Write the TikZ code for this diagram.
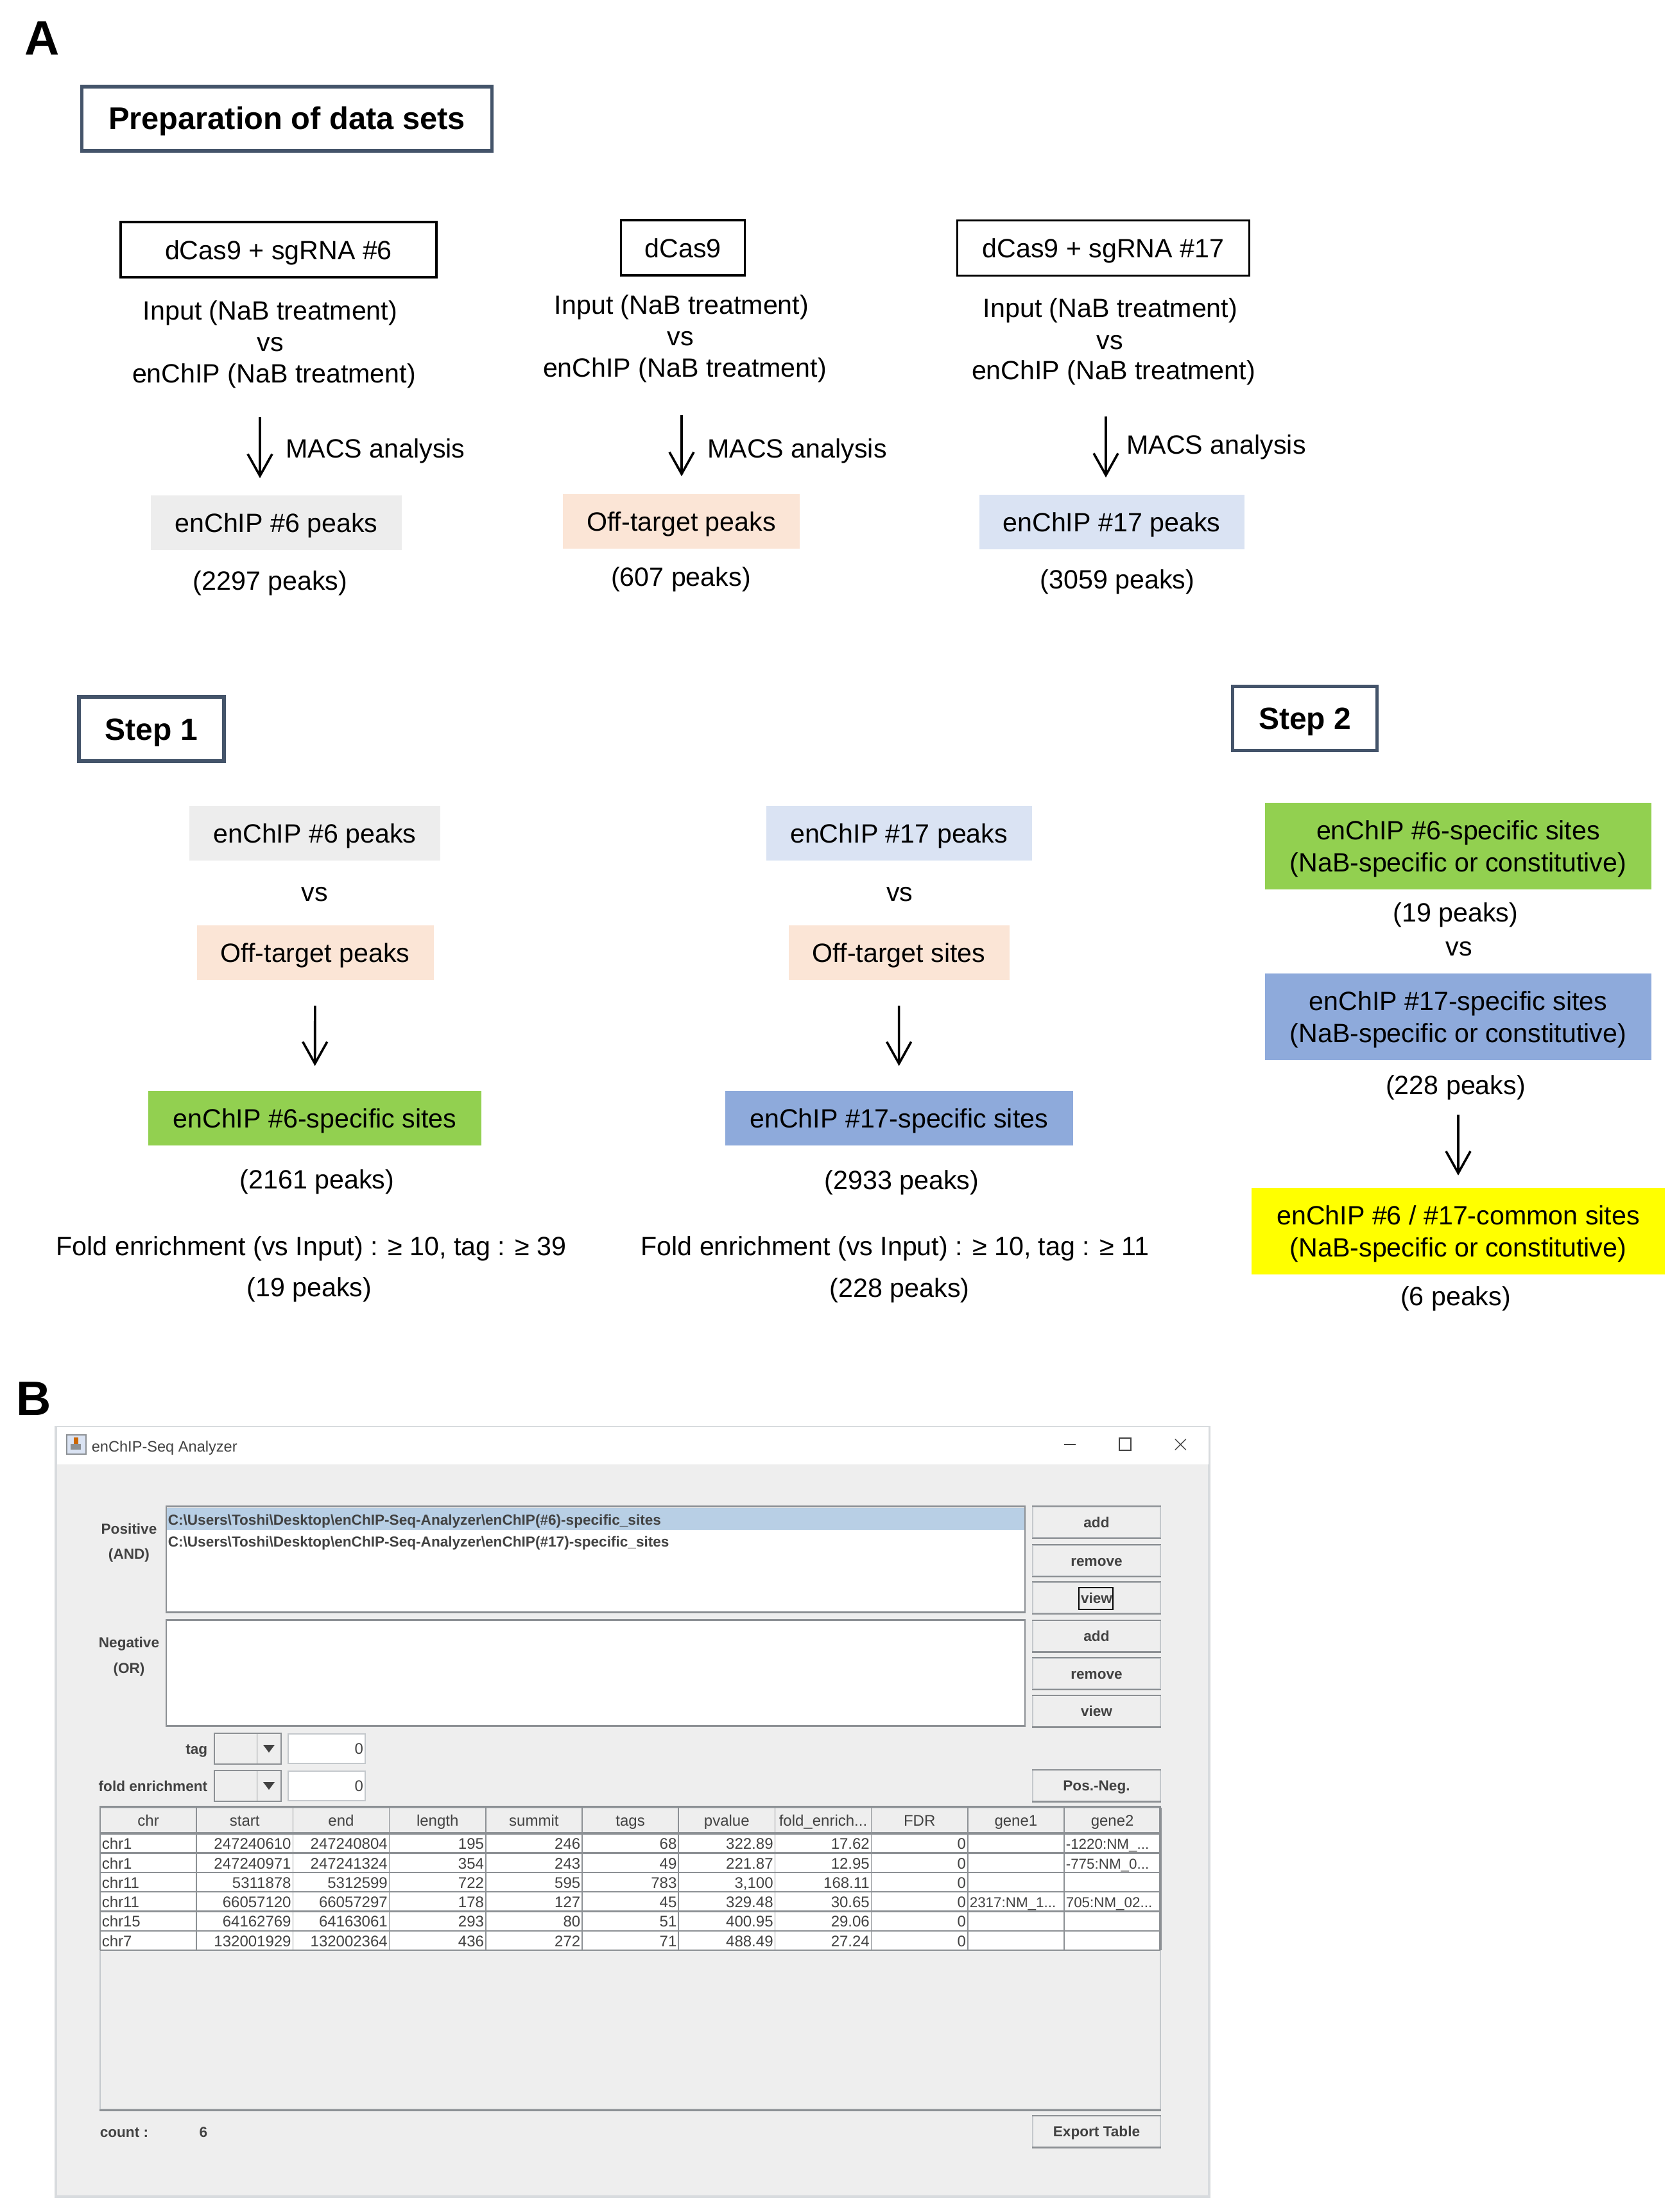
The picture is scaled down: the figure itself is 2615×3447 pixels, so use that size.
\documentclass[tikz,border=0pt]{standalone}
\usepackage{fontspec}
\setmainfont{Liberation Sans}
\definecolor{mynavy}{RGB}{68,84,106}
\definecolor{mygray}{RGB}{237,237,237}
\definecolor{mypeach}{RGB}{251,229,214}
\definecolor{mylightblue}{RGB}{218,227,243}
\definecolor{mygreen}{RGB}{146,208,80}
\definecolor{myblue}{RGB}{142,170,219}
\definecolor{myyellow}{RGB}{255,255,0}
\definecolor{mywindow}{RGB}{238,238,238}
\definecolor{myframe}{RGB}{216,219,222}
\definecolor{myedge}{RGB}{196,200,204}
\definecolor{mydark}{RGB}{140,144,148}
\definecolor{myselect}{RGB}{184,207,229}
\definecolor{myink}{RGB}{66,66,66}
\newcommand{\foldhead}{fold\_enrich...}
\usetikzlibrary{arrows.meta}
\tikzstyle{txt}=[inner sep=0pt,font=\fontsize{10.3}{12.5}\selectfont,align=center,execute at begin node={\rule[-2.2pt]{0pt}{11.9pt}}]
\tikzstyle{headbox}=[draw=mynavy,line width=1.4pt,fill=white,inner sep=0pt,minimum height=25pt,font=\fontsize{12}{14}\selectfont\bfseries,execute at begin node={\rule[-2.5pt]{0pt}{13.5pt}}]
\tikzstyle{samplebox}=[txt,draw=black,line width=.8pt,minimum height=21.5pt]
\tikzstyle{peakbox}=[txt,minimum height=21.25pt]
\tikzstyle{sitebox}=[txt,minimum width=150.65pt,minimum height=33.75pt,execute at begin node={\rule[-2.2pt]{0pt}{24.4pt}}]
\tikzstyle{panellabel}=[inner sep=0pt,font=\fontsize{18.8}{20}\selectfont\bfseries]
\tikzstyle{flow}=[-{Straight Barb[length=8.5pt,width=9.5pt]},line width=.9pt]
\tikzstyle{ui}=[inner sep=0pt,text=myink,font=\fontsize{6}{7}\selectfont,execute at begin node={\rule[-1.3pt]{0pt}{6.6pt}}]
\tikzstyle{uibold}=[ui,font=\fontsize{5.65}{7}\selectfont\bfseries]
\tikzstyle{listbox}=[draw=mydark,line width=.4pt,fill=white,inner sep=0pt,minimum width=334.5pt]
\tikzstyle{button}=[uibold,draw=myedge,line width=.4pt,fill=mywindow,minimum width=49.75pt,minimum height=12pt]
\tikzstyle{edge}=[mydark,line width=.6pt]
\begin{document}
\begin{tikzpicture}[x=.25pt,y=-.25pt]
\useasboundingbox (0,0) rectangle (2615,3447);
\node [panellabel] (labelA) at (66,60) {A};
\node [headbox,minimum width=159.75pt,font=\fontsize{12.2}{14}\selectfont\bfseries] (prep) at (447,185) {Preparation of data sets};
% data sets
\node [samplebox,minimum width=123pt] (sample6) at (434,389) {dCas9 + sgRNA \#6};
\node [txt] (input6) at (421,483) {Input (NaB treatment)};
\node [txt] (vs6) at (421,532) {vs};
\node [txt] (enchip6) at (427,581) {enChIP (NaB treatment)};
\coordinate (macs6) at (405,650);
\node [txt] (macslabel6) at (585,698) {MACS analysis};
\node [peakbox,fill=mygray,minimum width=97.75pt] (peak6) at (430.5,814.5) {enChIP \#6 peaks};
\node [txt] (count6) at (421,904) {(2297 peaks)};
\draw [flow,shorten >=6.5pt] (macs6) -- (macs6 |- peak6.north);

\node [samplebox,minimum width=48.4pt] (sample0) at (1064,386) {dCas9};
\node [txt] (input0) at (1062,474) {Input (NaB treatment)};
\node [txt] (vs0) at (1060,523) {vs};
\node [txt] (enchip0) at (1067,572) {enChIP (NaB treatment)};
\coordinate (macs0) at (1062,647);
\node [txt] (macslabel0) at (1242,698) {MACS analysis};
\node [peakbox,fill=mypeach,minimum width=92.25pt] (peak0) at (1061.5,812.5) {Off-target peaks};
\node [txt] (count0) at (1061,898) {(607 peaks)};
\draw [flow,shorten >=6.75pt] (macs0) -- (macs0 |- peak0.north);

\node [samplebox,minimum width=113.6pt] (sample17) at (1719,386.5) {dCas9 + sgRNA \#17};
\node [txt] (input17) at (1730,479) {Input (NaB treatment)};
\node [txt] (vs17) at (1729,529) {vs};
\node [txt] (enchip17) at (1735,576) {enChIP (NaB treatment)};
\coordinate (macs17) at (1723,649);
\node [txt] (macslabel17) at (1895,692) {MACS analysis};
\node [peakbox,fill=mylightblue,minimum width=103.25pt] (peak17) at (1732,813) {enChIP \#17 peaks};
\node [txt] (count17) at (1741,902) {(3059 peaks)};
\draw [flow,shorten >=6.4pt] (macs17) -- (macs17 |- peak17.north);

% step 1
\node [headbox,minimum width=56.6pt] (step1) at (236,1136) {Step 1};
\node [peakbox,fill=mygray,minimum width=97.75pt] (left6) at (490.5,1298) {enChIP \#6 peaks};
\node [txt] (leftvs6) at (490.5,1389) {vs};
\node [peakbox,fill=mypeach,minimum width=92.25pt] (leftoff6) at (491,1484) {Off-target peaks};
\node [peakbox,fill=mygreen,minimum width=129.75pt] (spec6) at (490.5,1742) {enChIP \#6-specific sites};
\node [txt] (speccount6) at (494,1837.5) {(2161 peaks)};
\node [txt] (fold6) at (485,1941.6) {Fold enrichment (vs Input) : ≥ 10, tag : ≥ 39};
\node [txt] (foldcount6) at (482,2005) {(19 peaks)};
\draw [flow,shorten <=10pt,shorten >=9.4pt] (leftoff6) -- (spec6);

\node [peakbox,fill=mylightblue,minimum width=103.5pt] (left17) at (1400.6,1298.5) {enChIP \#17 peaks};
\node [txt] (leftvs17) at (1401.6,1389.6) {vs};
\node [peakbox,fill=mypeach,minimum width=86pt] (leftoff17) at (1400.6,1484) {Off-target sites};
\node [peakbox,fill=myblue,minimum width=135.4pt] (spec17) at (1400.7,1742) {enChIP \#17-specific sites};
\node [txt] (speccount17) at (1405,1838) {(2933 peaks)};
\node [txt] (fold17) at (1394.4,1941) {Fold enrichment (vs Input) : ≥ 10, tag : ≥ 11};
\node [txt] (foldcount17) at (1401.6,2006) {(228 peaks)};
\draw [flow,shorten <=10pt,shorten >=9.4pt] (leftoff17) -- (spec17);

% step 2
\node [headbox,minimum width=56.3pt] (step2) at (2033,1119.5) {Step 2};
\node [sitebox,fill=mygreen] (right6) at (2272,1318.5) {enChIP \#6-specific sites\\(NaB-specific or constitutive)};
\node [txt] (rightcount6) at (2268,1421) {(19 peaks)};
\node [txt] (rightvs) at (2273,1474) {vs};
\node [sitebox,fill=myblue] (right17) at (2272,1584) {enChIP \#17-specific sites\\(NaB-specific or constitutive)};
\node [txt] (rightcount17) at (2268,1690) {(228 peaks)};
\node [sitebox,fill=myyellow,minimum width=161.1pt] (common) at (2272,1918) {enChIP \#6 / \#17-common sites\\(NaB-specific or constitutive)};
\node [txt] (commoncount) at (2268,2019) {(6 peaks)};
\coordinate (rightflow) at (2272,1736.5);
\draw [flow,shorten >=4.5pt] (rightflow) -- (common.north);

% panel B
\node [panellabel] (labelB) at (53,2180) {B};
\node [draw=myframe,line width=.8pt,fill=mywindow,inner sep=0pt,minimum width=449.25pt,minimum height=299.75pt] (window) at (985.5,2823.5) {};
\node [fill=white,inner sep=0pt,minimum width=448.5pt,minimum height=14.5pt] (titlebar) at (985.5,2253) {};
\node [draw=mydark,line width=.5pt,fill=mylightblue,inner sep=0pt,minimum width=7.5pt,minimum height=7.5pt] (icon) at (119,2251) {};
\fill [orange!80!black] (115,2240) rectangle (122,2250);
\fill [mydark] (110,2250) rectangle (126,2259);
\node [ui,anchor=west,font=\fontsize{5.9}{7}\selectfont] (title) at (142,2254.6) {enChIP-Seq Analyzer};
\node [inner sep=0pt,fill=myink,minimum width=4.5pt,minimum height=.7pt] (minbutton) at (1667,2251) {};
\node [draw=myink,line width=.5pt,inner sep=0pt,minimum width=4.5pt,minimum height=4.7pt] (maxbutton) at (1753,2250.5) {};
\node [ui,font=\fontsize{9}{9}\selectfont] (closebutton) at (1840,2252) {$\times$};

\node [listbox,minimum height=41pt] (poslist) at (928,2430) {};
\node [fill=myselect,inner sep=0pt,minimum width=334pt,minimum height=8.5pt] (selected) at (928,2367) {};
\draw [edge] (poslist.north west) -- (poslist.north east);
\draw [edge] (poslist.south west) -- (poslist.south east);
\node [uibold,anchor=west] (path6) at (261,2368) {C:\textbackslash Users\textbackslash Toshi\textbackslash Desktop\textbackslash enChIP-Seq-Analyzer\textbackslash enChIP(\#6)-specific\_sites};
\node [uibold,anchor=west] (path17) at (261,2402) {C:\textbackslash Users\textbackslash Toshi\textbackslash Desktop\textbackslash enChIP-Seq-Analyzer\textbackslash enChIP(\#17)-specific\_sites};
\node [listbox,minimum height=41pt] (neglist) at (928,2607) {};
\draw [edge] (neglist.north west) -- (neglist.north east);
\draw [edge] (neglist.south west) -- (neglist.south east);
\node [uibold] (positive) at (201,2382) {Positive};
\node [uibold] (and) at (201,2421) {(AND)};
\node [uibold] (negative) at (201,2559) {Negative};
\node [uibold] (or) at (201,2599) {(OR)};

\foreach \btn/\btntext/\btny in {add1/add/2372,remove1/remove/2432,view1/view/2490,add2/add/2549.5,remove2/remove/2608,view2/view/2666.5,posneg/Pos.-Neg./2782.5,export/Export Table/3321.5} {
  \node [button] (\btn) at (1708.5,\btny) {\btntext};
  \draw [edge] (\btn.north west) -- (\btn.north east);
  \draw [edge] (\btn.south west) -- (\btn.south east);
}
\node [draw=black,line width=.5pt,inner sep=0pt,minimum width=13.25pt,minimum height=8.5pt] (focus) at (1707.5,2491) {};

\node [uibold,anchor=east] (tag) at (324,2725) {tag};
\node [uibold,anchor=east] (fold) at (324,2783) {fold enrichment};
\foreach \cmb/\cmby in {tagbox/2725,foldbox/2783} {
  \node [draw=mydark,line width=.4pt,fill=mywindow,inner sep=0pt,minimum width=26pt,minimum height=12pt] (\cmb) at (386,\cmby) {};
  \draw [mydark,line width=.4pt] (400.6,\cmby-24) -- (400.6,\cmby+24);
  \fill [myink] (410,\cmby-6) -- (428,\cmby-6) -- (419,\cmby+6) -- cycle;
  \node [ui,draw=myedge,line width=.4pt,fill=white,minimum width=30pt,minimum height=11.5pt,align=right,text width=28.5pt] (\cmb val) at (509,\cmby) {0};
}

% table
\node [draw=myedge,line width=.6pt,fill=mywindow,inner sep=0pt,minimum width=413pt,minimum height=117.6pt] (table) at (982,3052) {};
\fill [white] (156,2857) rectangle (1808,3039);
\draw [edge] (table.north west) -- (table.north east);
\draw [edge] (table.south west) -- (table.south east);
\draw [mydark,line width=1pt] (1808,2817) -- (1808,3039);
\draw [mydark,line width=.6pt] (156,2817) -- (156,3039);
\foreach \hdr [count=\c] in {chr,start,end,length,summit,tags,pvalue,\foldhead,FDR,gene1,gene2} {
  \pgfmathsetmacro{\colx}{156+150.2*(\c-.5)}
  \node [ui] (head\c) at (\colx,2837) {\hdr};
}
\foreach \c in {1,...,10} {
  \draw [mydark,line width=.4pt] (156+150.2*\c,2817) -- (156+150.2*\c,3039);
}
\draw [mydark,line width=1pt] (156,2857) -- (1808,2857);
\foreach \r in {1,...,6} {
  \draw [mydark,line width=.6pt] (156,2857+30.37*\r) -- (1808,2857+30.37*\r);
}
\foreach \rowdata [count=\r] in {{chr1,247240610,247240804,195,246,68,322.89,17.62,0},{chr1,247240971,247241324,354,243,49,221.87,12.95,0},{chr11,5311878,5312599,722,595,783,{3,100},168.11,0},{chr11,66057120,66057297,178,127,45,329.48,30.65,0},{chr15,64162769,64163061,293,80,51,400.95,29.06,0},{chr7,132001929,132002364,436,272,71,488.49,27.24,0}} {
  \pgfmathsetmacro{\rowy}{2873.7+30.3*(\r-1)}
  \foreach \cell [count=\c] in \rowdata {
    \pgfmathsetmacro{\colx}{156+150.2*\c-2}
    \ifnum\c=1
      \node [ui,anchor=west] (cell\r-\c) at (158,\rowy) {\cell};
    \else
      \node [ui,anchor=east] (cell\r-\c) at (\colx,\rowy) {\cell};
    \fi
  }
}
\node [ui,anchor=west,font=\fontsize{5.6}{7}\selectfont] (gene2a) at (1660,2873.7) {-1220:NM\_...};
\node [ui,anchor=west,font=\fontsize{5.6}{7}\selectfont] (gene2b) at (1660,2904) {-775:NM\_0...};
\node [ui,anchor=west,font=\fontsize{5.6}{7}\selectfont] (gene1c) at (1510,2964) {2317:NM\_1...};
\node [ui,anchor=west,font=\fontsize{5.6}{7}\selectfont] (gene2c) at (1660,2964) {705:NM\_02...};
\node [uibold,anchor=west] (count) at (155,3322) {count :};
\node [uibold] (countval) at (317,3322) {6};
\end{tikzpicture}
\end{document}
